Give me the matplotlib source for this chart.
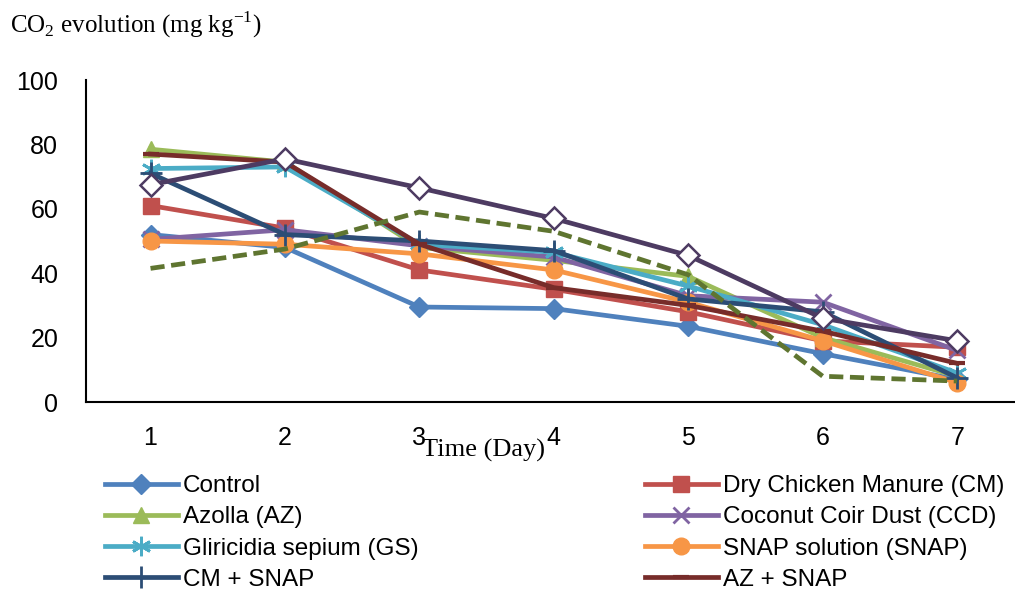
import matplotlib
matplotlib.use("Agg")
import matplotlib.pyplot as plt

plt.rcParams['font.family'] = ['Liberation Sans', 'DejaVu Sans']
plt.rcParams['mathtext.fontset'] = 'custom'
plt.rcParams['mathtext.rm'] = 'Liberation Serif'

# Data
days = [1, 2, 3, 4, 5, 6, 7]
control = [52, 48, 29.5, 29, 23.5, 15, 7]
chicken = [61, 54, 41, 35, 28, 19, 17]
azolla = [78.5, 74.5, 48, 44, 39, 20, 8]
coir = [50.5, 53.5, 48.5, 45, 33, 31, 16]
gliricidia = [72.5, 73, 49, 46.5, 36, 24, 9]
snap = [50, 49, 46, 41, 31, 19, 6]
cm_snap = [71, 52, 50, 47, 32, 28, 7.5]
az_snap = [77, 74.5, 49, 35.5, 30, 22, 12]
ccd_snap = [41.5, 47.5, 59, 53, 39.5, 8, 6.5]
gs_snap = [67.5, 75.5, 66.5, 57, 45.5, 26, 19]

fig = plt.figure(figsize=(10.15, 5.9), dpi=100)
ax = fig.add_axes([86/1015, 1-402/590, 1-86/1015, 322/590])

lw = 3.4
h_control, = ax.plot(days, control, color='#4F81BD', lw=lw, marker='D', ms=10, label='Control')
h_chicken, = ax.plot(days, chicken, color='#C0504D', lw=lw, marker='s', ms=11, label='Dry Chicken Manure (CM)')
h_azolla, = ax.plot(days, azolla, color='#9BBB59', lw=lw, marker='^', ms=12, label='Azolla (AZ)')
h_coir, = ax.plot(days, coir, color='#8064A2', lw=lw, marker='x', ms=12, mew=2, label='Coconut Coir Dust (CCD)')
h_gs, = ax.plot(days, gliricidia, color='#4BACC6', lw=lw, marker=(6, 2, 0), ms=14, mew=2, label='Gliricidia sepium (GS)')
h_snap, = ax.plot(days, snap, color='#F79646', lw=lw, marker='o', ms=12, label='SNAP solution (SNAP)')
h_cmsnap, = ax.plot(days, cm_snap, color='#2C4D75', lw=lw, marker='+', ms=16, mew=2, label='CM + SNAP')
h_azsnap, = ax.plot(days, az_snap, color='#772C2A', lw=lw, marker='_', ms=12, mew=3, label='AZ + SNAP')
ax.plot(days, ccd_snap, color='#5F7530', lw=lw, ls=(0, (3, 1.4)))
ax.plot(days, gs_snap, color='#4D3B62', lw=lw, marker='D', ms=11, mfc='white', mew=1.8)

ax.set_xlim(0.52, 7.43)
ax.set_ylim(0, 100)
ax.set_xticks(days)
ax.set_yticks([0, 20, 40, 60, 80, 100])
ax.tick_params(axis='x', length=0, pad=17, labelsize=18)
ax.tick_params(axis='y', length=0, pad=20, labelsize=18)
ax.spines['top'].set_visible(False)
ax.spines['right'].set_visible(False)
ax.spines['left'].set_linewidth(1.5)
ax.spines['bottom'].set_linewidth(1.5)

fig.text(10/1015, 1-25/590, r'CO$_2$ evolution (mg kg$^{-1}$)', family='Liberation Serif',
         fontsize=18, ha='left', va='center')
fig.text(483/1015, 1-450/590, 'Time (Day)', family='Liberation Serif', fontsize=19,
         ha='center', va='center')

# Legend in two columns, placed separately
opts = dict(loc='upper left', bbox_transform=fig.transFigure, frameon=False, fontsize=17.5,
            handlelength=3.0, handletextpad=0.2, labelspacing=0.38, borderaxespad=0, borderpad=0)
leg1 = ax.legend(handles=[h_control, h_azolla, h_gs, h_cmsnap],
                 bbox_to_anchor=(105/1015, 1-475/590), **opts)
ax.add_artist(leg1)
ax.legend(handles=[h_chicken, h_coir, h_snap, h_azsnap],
          bbox_to_anchor=(645/1015, 1-475/590), **opts)

fig.savefig('out.png', dpi=100)
